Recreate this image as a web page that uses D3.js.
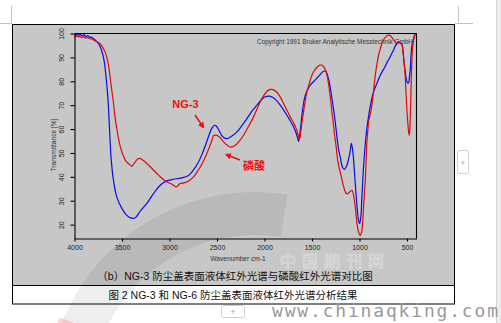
<!DOCTYPE html>
<html><head><meta charset="utf-8">
<script src="https://cdn.jsdelivr.net/npm/d3@7"></script>
<style>body{margin:0;background:#fff;overflow:hidden}svg{display:block}</style>
</head><body>
<svg id="c" width="501" height="323"></svg>
<script>
// ---------- data ----------
const xTicks = [4000, 3500, 3000, 2500, 2000, 1500, 1000, 500];
const yTicks = [20, 30, 40, 50, 60, 70, 80, 90, 100];

// NG-3 (blue)
const ng3Wn = [4000,3985,3970,3955,3940,3920,3900,3880,3860,3840,3820,3800,3770,3745,3720,3700,3684,3666,3648,3635,3624,3613,3590,3555,3500,3450,3400,3360,3310,3240,3170,3100,3030,2960,2880,2800,2750,2700,2650,2610,2575,2550,2527,2505,2484,2455,2430,2395,2350,2290,2240,2185,2130,2080,2030,1992,1950,1921,1880,1834,1764,1694,1660,1641,1625,1606,1590,1571,1545,1519,1480,1448,1410,1378,1355,1335,1315,1290,1270,1255,1235,1220,1200,1182,1160,1135,1115,1100,1086,1075,1066,1052,1034,1020,1010,999,987,975,965,957,945,935,920,900,880,852,820,781,740,711,680,658,640,623,600,588,570,553,542,535,525,518,508,500,490,483,475,465,455,445,437,428,420,412,405];
const ng3T  = [99.8,99.2,100,99.3,99.7,99.0,99.5,98.7,99.1,98.4,98.5,97.8,96.8,95.6,93.5,90.8,87.5,81,72.8,63,54,47,38.6,31.6,26.7,23.9,22.7,22.9,25.6,28.8,32.9,36.4,38.3,39,39.5,40.6,42.8,45.8,50.2,54.5,58.5,60.6,61.6,61.2,59.8,57.6,56.5,56,56.9,58.8,61.3,64.4,67.6,70,72.4,73.5,73.8,73.4,72.2,70,65.8,60.9,57.5,54.8,59,65.8,70.5,74.2,76.6,78.4,80,81.3,83,84.2,84.2,82.3,79,72.8,67.5,62.8,56,51.5,47.8,44.3,43.1,44.5,47.5,50.2,54,52,49,41.4,31.6,25,21.8,20.4,22.8,31,39,44.5,51,55.5,61,66.5,71,75.5,78.8,82.5,85.5,87.8,90,91.8,93.2,94.8,96,96.5,96,95.5,93,89.6,86,84,81,79.8,79.2,79.3,81.5,85.4,92.4,95.8,96.8,98.2,99.4,99.8,100];

// 磷酸 (red)
const acidWn = [4000,3990,3975,3960,3945,3925,3905,3885,3865,3845,3820,3800,3765,3729,3700,3677,3660,3648,3635,3624,3610,3596,3583,3571,3554,3537,3520,3501,3480,3466,3440,3413,3396,3375,3361,3340,3326,3305,3290,3265,3238,3185,3115,3045,2974,2929,2900,2887,2850,2816,2780,2747,2710,2676,2640,2606,2580,2553,2536,2515,2484,2455,2431,2395,2360,2330,2308,2265,2220,2170,2115,2070,2027,1985,1950,1925,1900,1869,1835,1799,1765,1729,1690,1658,1640,1630,1620,1605,1589,1570,1553,1525,1500,1475,1448,1430,1413,1395,1378,1360,1342,1328,1315,1300,1290,1275,1262,1244,1235,1218,1200,1182,1166,1152,1139,1127,1115,1095,1079,1068,1062,1052,1044,1035,1026,1018,1010,1000,992,983,974,965,957,948,939,929,921,912,904,885,869,850,834,815,799,780,763,740,711,690,676,660,641,620,605,590,578,565,553,540,528,518,511,505,500,490,483,476,470,465,460,455,450,444,437,430,423,416,405];
const acidT  = [99.0,98.6,99.2,98.5,98.9,98.3,98.7,98.1,98.3,97.9,97.7,97.3,96.6,95.6,94,92.2,90,88,84.8,81.2,77,72.8,68.5,64.4,60,56.1,53,50.4,48.3,47,45.8,44.9,44.4,45.5,46.2,47.3,47.7,47.6,47.3,46.5,45.6,43.5,40.7,38.3,36.9,35.8,36.8,37.2,37.5,37.9,38.8,40,42,44.1,46.8,49.8,52.5,55.3,57.2,57.5,57,55.9,54.6,53.3,52.5,52.7,53.2,55,57.4,61,65.1,69.2,72.8,75.3,76.5,76.6,76.3,75.4,73.5,70.7,68,65.1,62.3,59.3,56.5,56,58.5,63,67.2,72,75.6,79.6,82.6,84.5,85.8,86.5,86.8,86.7,86.1,84.8,82.6,79.5,75.6,71,67.2,62,57.4,52,48.4,44.5,41.4,38.4,35.8,34,33,32.9,33.3,34,34.4,33.4,32.3,29.5,27.4,23.5,20.4,18.3,16.9,15.9,15.5,16.2,17.6,22,27.4,33,38.6,48.4,55.3,59.5,63,66.5,70,76.5,82.6,87.5,91,93.8,95.9,97.8,99.1,99.3,99.1,98.4,97.3,96.2,95.9,96.3,96.3,95.8,95.2,91.5,86.8,81.5,75.6,71,67.2,62,58.8,57.4,60,65.8,73,81.2,87,92.4,95.5,97.3,98.5,99.4,100];

const series = [
  {name: "NG-3", wn: ng3Wn, t: ng3T, color: "#0a0ae6"},
  {name: "磷酸", wn: acidWn, t: acidT, color: "#dc0a0a"}
];

// ---------- drawing ----------
const svg = d3.select("#c");
const sans = "'Liberation Sans', Arial, 'Noto Sans CJK SC', sans-serif";

// page decorations (word processor frame)
svg.append("rect").attr("x", 496.5).attr("y", -1).attr("width", 6).attr("height", 325)
  .attr("fill", "#ececec").attr("stroke", "#d6d6d6");
const marks = [[0,23.5,12,23.5],[455,23.5,473,23.5],[11.5,6,11.5,23.5],[458.5,6,458.5,23.5]];
svg.selectAll("line.mark").data(marks).enter().append("line")
  .attr("x1", d => d[0]).attr("y1", d => d[1]).attr("x2", d => d[2]).attr("y2", d => d[3])
  .attr("stroke", "#c4c4c4").attr("stroke-width", 1);

// panel
svg.append("rect").attr("x", 12.5).attr("y", 24.5).attr("width", 442).attr("height", 261)
  .attr("fill", "#c7c7c7").attr("stroke", "#000");
svg.append("rect").attr("x", 12.5).attr("y", 285.5).attr("width", 442).attr("height", 18.5)
  .attr("fill", "#fff").attr("stroke", "#000");

const x = d3.scaleLinear().domain([4000, 400]).range([74.5, 416.5]);
const y = d3.scaleLinear().domain([14.2, 100]).range([238.5, 33.5]);

// copyright
svg.append("text").attr("x", 257).attr("y", 43.5)
  .attr("font-family", sans).attr("font-size", 6.3).attr("fill", "#333")
  .attr("textLength", 156).attr("lengthAdjust", "spacingAndGlyphs")
  .text("Copyright 1991 Bruker Analytische Messtechnik GmbH");

// curves
const line = d3.line().x(d => x(d[0])).y(d => y(d[1])).curve(d3.curveCatmullRom.alpha(0.5));
series.forEach(s => {
  const pts = s.wn.map((w, i) => [w, s.t[i]]);
  svg.append("path").datum(pts).attr("d", line)
    .attr("fill", "none").attr("stroke", s.color).attr("stroke-width", 1.2);
});

// axes
const yAxis = d3.axisLeft(y).tickValues(yTicks).tickSize(4).tickSizeOuter(0).tickFormat(d3.format("d"));
const gy = svg.append("g").attr("transform", "translate(74.5,0)").call(yAxis);
gy.selectAll("text").attr("x", null).attr("dy", null)
  .attr("transform", "translate(-10.5,0) rotate(-90)").attr("text-anchor", "middle")
  .attr("font-size", 7).attr("font-family", sans).attr("fill", "#222");

const xAxis = d3.axisBottom(x).tickValues(xTicks).tickSize(3).tickSizeOuter(0).tickFormat(d3.format("d"));
const gx = svg.append("g").attr("transform", "translate(0,238.5)").call(xAxis);
gx.selectAll("text").attr("y", 6.5).attr("dy", "0.71em")
  .attr("font-size", 7).attr("font-family", sans).attr("fill", "#222");
[gx, gy].forEach(g => { g.selectAll("path,line").attr("stroke", "#000").attr("stroke-width", 1.1); });

// frame top/right
svg.append("path").attr("d", `M${x(4000)},${y(100)}H${x(400)}V${y(14.2)}`)
  .attr("fill", "none").attr("stroke", "#000").attr("stroke-width", 1.1);

// axis titles
svg.append("text").attr("transform", "translate(55.5,145) rotate(-90)")
  .attr("text-anchor", "middle").attr("font-family", sans).attr("font-size", 6.6).attr("fill", "#333")
  .text("Transmittance [%]");
svg.append("text").attr("x", 238).attr("y", 260.5)
  .attr("text-anchor", "middle").attr("font-family", sans).attr("font-size", 6.6).attr("fill", "#333")
  .text("Wavenumber cm-1");

// annotations
const red = "#ee1111";
const defs = svg.append("defs");
defs.append("marker").attr("id", "ah").attr("viewBox", "0 0 10 10").attr("refX", 8).attr("refY", 5)
  .attr("markerWidth", 4).attr("markerHeight", 4).attr("orient", "auto")
  .append("path").attr("d", "M0,0L10,5L0,10z").attr("fill", red);
svg.append("text").attr("x", 185.5).attr("y", 108).attr("text-anchor", "middle")
  .attr("font-family", sans).attr("font-weight", "bold").attr("font-size", 11).attr("fill", red)
  .text(series[0].name);
svg.append("line").attr("x1", 195).attr("y1", 115).attr("x2", 203.5).attr("y2", 127.5)
  .attr("stroke", red).attr("stroke-width", 1.6).attr("marker-end", "url(#ah)");
svg.append("text").attr("x", 254).attr("y", 169.5).attr("text-anchor", "middle")
  .attr("font-family", "'Noto Sans CJK SC', sans-serif").attr("font-weight", "bold").attr("font-size", 11).attr("fill", red)
  .text(series[1].name);
svg.append("line").attr("x1", 240).attr("y1", 160).attr("x2", 226).attr("y2", 154.5)
  .attr("stroke", red).attr("stroke-width", 1.6).attr("marker-end", "url(#ah)");

// captions
const cjk = "'Liberation Sans', 'Noto Sans CJK SC', sans-serif";
svg.append("text").attr("x", 235).attr("y", 279.5).attr("text-anchor", "middle")
  .attr("font-family", cjk).attr("font-size", 10.5).attr("fill", "#111")
  .text("（b）NG-3 防尘盖表面液体红外光谱与磷酸红外光谱对比图");
svg.append("text").attr("x", 233).attr("y", 299).attr("text-anchor", "middle")
  .attr("font-family", cjk).attr("font-size", 10.5).attr("fill", "#111")
  .text("图 2  NG-3 和 NG-6 防尘盖表面液体红外光谱分析结果");

// "+" buttons
svg.append("rect").attr("x", 457.5).attr("y", 150.5).attr("width", 11).attr("height", 23).attr("rx", 2)
  .attr("fill", "#fff").attr("stroke", "#cfcfcf");
svg.append("text").attr("x", 463).attr("y", 166).attr("text-anchor", "middle")
  .attr("font-family", sans).attr("font-size", 9).attr("fill", "#aaa").text("+");
svg.append("rect").attr("x", 221.5).attr("y", 305.5).attr("width", 23).attr("height", 12).attr("rx", 2)
  .attr("fill", "#fff").attr("stroke", "#cfcfcf");
svg.append("text").attr("x", 233).attr("y", 315).attr("text-anchor", "middle")
  .attr("font-family", sans).attr("font-size", 9).attr("fill", "#aaa").text("+");

// watermarks
const arc = d3.arc();
svg.append("path").attr("transform", "translate(255,400)")
  .attr("d", arc({innerRadius: 165, outerRadius: 208, startAngle: -75 * Math.PI / 180, endAngle: 9 * Math.PI / 180}))
  .attr("fill", "#000").attr("opacity", 0.065);
svg.append("path").attr("transform", "translate(255,400)")
  .attr("d", arc({innerRadius: 190, outerRadius: 212, startAngle: -115 * Math.PI / 180, endAngle: -67 * Math.PI / 180}))
  .attr("fill", "#e04848").attr("opacity", 0.22);
svg.append("text").attr("x", 280).attr("y", 266.5).attr("font-family", "'Liberation Sans', 'Noto Sans CJK SC', sans-serif")
  .attr("font-size", 16).attr("letter-spacing", 6).attr("fill", "none").attr("stroke", "#eeeeee")
  .attr("stroke-width", 0.6).attr("opacity", 0.6).text("中国期刊网");
svg.append("text").attr("x", 272).attr("y", 317).attr("font-family", "'DejaVu Sans Mono', monospace")
  .attr("font-size", 18).attr("fill", "#9a9a9a").attr("textLength", 226).attr("lengthAdjust", "spacing")
  .text("www.chinaqking.com");
</script>
</body></html>
